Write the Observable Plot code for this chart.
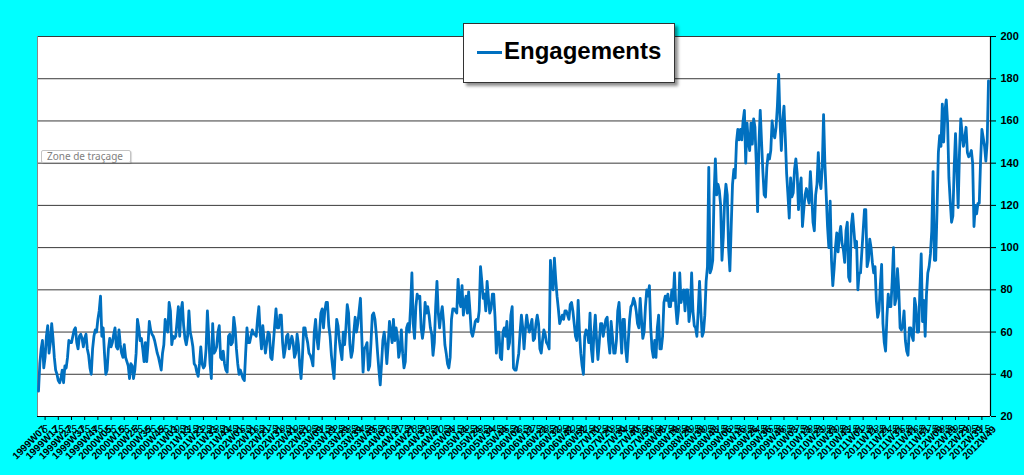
<!DOCTYPE html>
<html>
<head>
<meta charset="utf-8">
<script src="https://cdn.jsdelivr.net/npm/d3@7"></script>
<script src="https://cdn.jsdelivr.net/npm/@observablehq/plot@0.6"></script>
<style>
  html, body { margin: 0; padding: 0; background: #00FFFF; }
  #wrap { position: relative; width: 1024px; height: 475px; overflow: hidden; background: #00FFFF; }
  #chart svg { display: block; }
  #legend {
    position: absolute; left: 463px; top: 23px; width: 212px; height: 60px;
    box-sizing: border-box; background: #fff; border: 1px solid #333;
    box-shadow: 3px 3px 3px rgba(0,0,0,0.45);
    font-family: "Liberation Sans", Arial, sans-serif; font-weight: bold; font-size: 24px; color: #000;
  }
  #legend .sw { position: absolute; left: 13px; top: 27px; width: 25px; height: 3px; background: #0070C0; }
  #legend .lb { position: absolute; left: 40px; top: 13px; line-height: 28px; white-space: nowrap; }
  #tip {
    position: absolute; left: 41px; top: 150px; width: 90px; height: 13px; box-sizing: border-box;
    background: #fff; border: 1px solid #c4c4c4; border-radius: 2px; box-shadow: 1px 1px 1px rgba(0,0,0,0.15);
    font-family: "Noto Sans", "DejaVu Sans", sans-serif; font-size: 10px; line-height: 11px; color: #808080;
    padding-left: 5px; white-space: nowrap;
  }
</style>
</head>
<body>
<div id="wrap">
  <div id="chart"></div>
  <div id="legend"><div class="sw"></div><div class="lb">Engagements</div></div>
  <div id="tip">Zone de traçage</div>
</div>
<script>
// Weekly values per year (ISO weeks); 1999 starts at W07, 2012 ends at W49
const v1999 = [32,45,52,56,43,48,58,63,50,55,64,57,48,42,40,37,36,38,42,36,44,43,48,56,55,55,58,61,62,55,52,58,59,57,53,57,59,52,49,43,40,52,58,61,60,66];
const v2000 = [70,77,58,62,50,40,42,52,57,53,55,59,62,53,52,61,54,50,48,54,48,46,44,38,45,44,38,42,50,66,62,56,57,52,46,55,46,54,65,61,59,58,56,53,50,48,45,42,50,54,66,62];
const v2001 = [60,74,70,54,58,57,58,65,72,58,70,74,63,57,54,58,70,60,57,53,45,44,41,39,45,53,45,43,44,52,70,58,45,38,64,50,51,53,60,63,48,47,51,45,42,41,58,59,54,55,67,62];
const v2002 = [52,45,40,42,40,38,37,50,62,55,55,58,61,59,59,58,66,72,60,52,63,56,50,55,60,59,48,47,55,63,71,62,62,68,68,55,48,52,58,59,52,55,58,55,48,50,59,54,44,38,48,62];
const v2003 = [62,58,55,50,49,47,44,60,66,57,52,60,69,71,62,70,74,74,63,58,49,43,38,53,66,63,56,51,47,60,54,62,73,69,54,48,51,60,67,60,64,70,76,58,41,52,53,55,42,44,55,68];
const v2004 = [69,66,59,50,42,35,45,56,60,54,45,54,65,60,55,66,56,62,58,48,52,61,50,43,46,62,64,60,72,88,64,57,72,78,76,77,62,57,62,74,69,72,68,62,59,49,55,72,84,69,62,68,72];
const v2005 = [65,54,50,45,43,48,66,71,71,70,69,85,75,72,82,68,74,77,69,79,70,60,58,61,65,66,65,70,91,84,76,78,70,84,76,69,71,78,78,67,50,60,60,48,47,60,62,58,65,52,55,68];
const v2006 = [72,43,42,42,46,50,60,68,62,52,61,68,63,60,63,66,56,57,64,68,64,52,50,56,61,59,55,54,52,94,83,80,95,85,77,71,64,66,68,66,70,70,68,66,73,74,70,64,58,56,75,60];
const v2007 = [50,44,40,58,61,60,55,69,52,46,60,68,56,47,55,64,64,58,62,66,67,56,50,65,58,50,50,56,70,74,62,50,66,66,52,46,56,66,72,73,76,74,70,64,62,76,66,57,60,72,80,77];
const v2008 = [82,62,52,48,56,48,62,68,52,52,58,74,77,75,78,72,72,80,75,88,72,64,70,88,74,78,80,70,80,80,65,70,88,70,63,62,58,70,84,70,58,60,68,84,91,138,88,90,94,125,142,125];
const v2009 = [130,127,120,94,105,122,130,125,100,89,110,130,137,133,150,156,151,156,151,160,165,140,159,150,146,159,149,161,157,140,117,149,165,150,136,125,124,138,144,142,146,160,154,152,157,167,182,160,146,160,167,152,135];
const v2010 = [125,114,133,124,126,137,142,135,118,128,133,110,118,125,128,124,121,136,125,112,108,125,130,145,132,128,138,163,140,125,110,100,122,94,82,90,100,107,98,106,110,102,99,93,108,112,86,84,110,116,108,100];
const v2011 = [103,80,88,88,98,108,118,118,91,94,104,100,93,88,91,75,67,70,82,92,64,55,51,67,78,72,72,84,100,73,76,90,80,62,61,63,70,56,51,49,62,62,58,56,76,72,60,60,80,97,65,75];
const v2012 = [58,78,88,91,97,108,136,94,94,118,145,153,148,168,150,165,170,159,133,122,112,115,138,154,137,119,145,161,154,148,152,157,145,143,144,146,140,110,120,116,121,121,141,156,152,148,141,150,179];

// Category-axis labels (one every 10 weeks)
const tickLabels = ["1999W07","1999W17","1999W27","1999W37","1999W47",
  "2000W05","2000W15","2000W25","2000W35","2000W45",
  "2001W03","2001W13","2001W23","2001W33","2001W43",
  "2002W01","2002W11","2002W21","2002W31","2002W41","2002W51",
  "2003W09","2003W19","2003W29","2003W39","2003W49",
  "2004W07","2004W17","2004W27","2004W37","2004W47",
  "2005W04","2005W14","2005W24","2005W34","2005W44",
  "2006W02","2006W12","2006W22","2006W32","2006W42","2006W52",
  "2007W10","2007W20","2007W30","2007W40","2007W50",
  "2008W08","2008W18","2008W28","2008W38","2008W48",
  "2009W06","2009W16","2009W26","2009W36","2009W46",
  "2010W03","2010W13","2010W23","2010W33","2010W43",
  "2011W01","2011W11","2011W21","2011W31","2011W41","2011W51",
  "2012W09","2012W19","2012W29","2012W39","2012W49"];
const yTicks = [20,40,60,80,100,120,140,160,180,200];
const seriesName = "Engagements";

const values = [].concat(v1999,v2000,v2001,v2002,v2003,v2004,v2005,v2006,v2007,v2008,v2009,v2010,v2011,v2012);
const data = values.map((v, i) => ({i, v}));
const last = values.length - 1;
const labels = tickLabels.map((label, k) => ({i: k * 10, label}));
const tickIdx = labels.map(d => d.i + 5).filter(i => i <= last);

const chart = Plot.plot({
  width: 1024, height: 475,
  marginLeft: 37, marginRight: 34, marginTop: 36, marginBottom: 59,
  style: {background: "#00FFFF", color: "#000", fontFamily: "'Liberation Sans', Arial, sans-serif", overflow: "visible"},
  x: {type: "linear", domain: [0, last], insetLeft: 1, insetRight: 2, label: null},
  y: {domain: [20, 200], label: null},
  marks: [
    Plot.frame({fill: "#fff", stroke: null}),
    Plot.ruleY(yTicks.filter(d => d > 20), {stroke: "#3a3a3a", strokeWidth: 1}),
    Plot.ruleX([0], {dx: -1, stroke: "#888"}),
    Plot.line(data, {x: "i", y: "v", stroke: "#0070C0", strokeWidth: 2.8, strokeLinejoin: "round", strokeLinecap: "round"}),
    Plot.ruleY([20], {stroke: "#000", strokeWidth: 1.2}),
    Plot.ruleX([last], {dx: 2, stroke: "#000", strokeWidth: 1.2}),
    Plot.axisY(yTicks, {anchor: "right", tickSize: 5, tickPadding: 5, fontSize: 11, fontWeight: "bold", label: null}),
    Plot.axisX(tickIdx, {anchor: "bottom", tickSize: 4, tickFormat: null, label: null}),
    Plot.text(labels, {x: "i", text: "label", frameAnchor: "bottom", rotate: -45, textAnchor: "end", lineAnchor: "middle",
      dx: 6, dy: 11, fontSize: 10, fontWeight: "bold", fill: "#000"})
  ]
});
document.getElementById("chart").appendChild(chart);
document.querySelector("#legend .lb").textContent = seriesName;
</script>
</body>
</html>
